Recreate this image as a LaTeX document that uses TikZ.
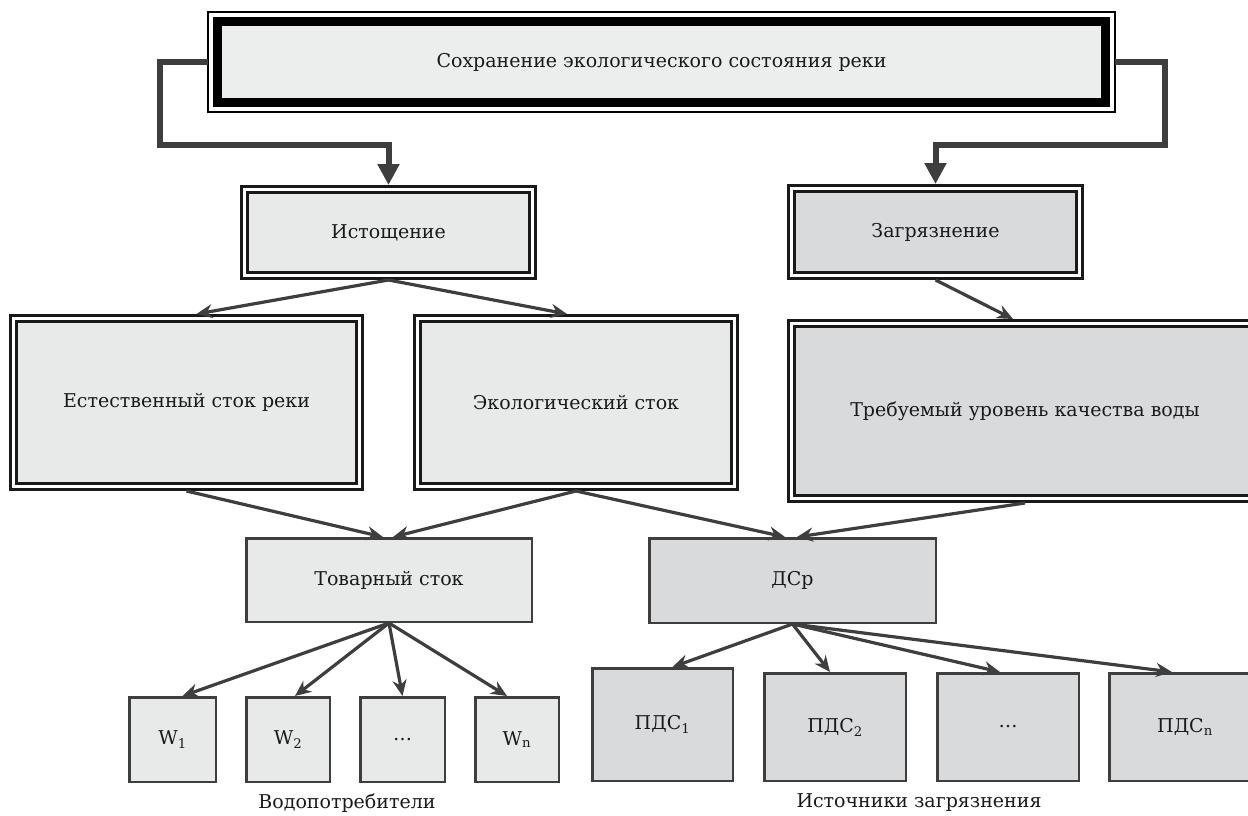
\documentclass[tikz,border=0pt]{standalone}
\usepackage{fontspec}
\setmainfont{DejaVu Serif}
\usetikzlibrary{arrows.meta}

\definecolor{fillT}{HTML}{ECEEEE}
\definecolor{fillA}{HTML}{E8EAEA}
\definecolor{fillB}{HTML}{D8DADC}
\definecolor{lineC}{HTML}{3E3E3E}

\begin{document}
\begin{tikzpicture}[x=1pt,y=-1pt,
  every node/.style={font=\fontsize{19}{23}\selectfont, text=black!90},
  dblbox/.style={draw=black!90, line width=3pt, double=white, double distance=3pt, outer sep=4.5pt},
  onebox/.style={draw=lineC, line width=2.5pt},
  arr/.style={draw=lineC, line width=3.2pt, -{Stealth[length=16pt,width=14pt]}},
  bigarr/.style={draw=lineC, line width=6pt, -{Triangle[length=21pt,width=21pt]}}]

\useasboundingbox (0,0) rectangle (1248,816);

% top goal
\node[draw=black, line width=9pt, fill=fillT, outer sep=0pt, minimum width=888pt, minimum height=81pt] (top) at (661.5,62) {Сохранение экологического состояния реки};
\draw[line width=1.5pt] ([shift={(-9.5,-9.5)}]top.north west) rectangle ([shift={(9.5,9.5)}]top.south east);

% second level
\node[dblbox, fill=fillA, minimum width=288pt, minimum height=86pt] (istosh) at (388.5,232.5) {Истощение};
\node[dblbox, fill=fillB, minimum width=288pt, minimum height=87pt] (zagr) at (935.5,232) {Загрязнение};

\draw[bigarr] ([xshift=-9.5pt]top.west) -- ++(-48,0) -- ++(0,83) -| (istosh.north);
\draw[bigarr] ([xshift=9.5pt]top.east) -- ++(50,0) -- ++(0,83) -| (zagr.north);

% third level
\node[dblbox, fill=fillA, minimum width=346pt, minimum height=168pt] (estest) at (186.5,402.5) {Естественный сток реки};
\node[dblbox, fill=fillA, minimum width=317pt, minimum height=168pt] (ekol) at (576,402.5) {Экологический сток};
\node[dblbox, fill=fillB, minimum width=467pt, minimum height=175pt] (treb) at (1025,411) {Требуемый уровень качества воды};

\draw[arr] (istosh.south) -- ([xshift=10pt]estest.north);
\draw[arr] (istosh.south) -- ([xshift=-9pt]ekol.north);
\draw[arr] (zagr.south) -- ([xshift=-12pt]treb.north);

% fourth level
\node[onebox, fill=fillA, minimum width=285.5pt, minimum height=83.5pt] (tovar) at (389,580) {Товарный сток};
\node[onebox, fill=fillB, minimum width=286.5pt, minimum height=84.5pt] (dsr) at (792.5,580.5) {ДСр};

\draw[arr] (estest.south) -- ([xshift=-6pt]tovar.north);
\draw[arr] (ekol.south) -- ([xshift=4pt]tovar.north);
\draw[arr] (ekol.south) -- ([xshift=-7.5pt]dsr.north);
\draw[arr] (treb.south) -- ([xshift=4.5pt]dsr.north);

% consumers
\foreach \n/\x/\w/\dx/\lab in {w1/172.5/86.5/10/W\textsubscript{1}, w2/288/83.5/7/W\textsubscript{2}, w3/402.5/84.5/0/{\dots}, wn/517/83.5/-10/W\textsubscript{n}} {
  \node[onebox, fill=fillA, minimum width=\w pt, minimum height=84.5pt] (\n) at (\x,739.5) {\lab};
  \draw[arr] (tovar.south) -- ([xshift=\dx pt]\n.north);
}

% pollution sources
\foreach \n/\x/\y/\w/\h/\dx/\lab in {p1/662.5/724.5/140.5/112.5/10/ПДС\textsubscript{1}, p2/835/727/141.5/107.5/-5/ПДС\textsubscript{2}, p3/1008/727/141.5/107.5/-8/{\dots}, pn/1185/727/151.5/107.5/-13/ПДС\textsubscript{n}} {
  \node[onebox, fill=fillB, minimum width=\w pt, minimum height=\h pt] (\n) at (\x,\y) {\lab};
  \draw[arr] (dsr.south) -- ([xshift=\dx pt]\n.north);
}

\node (users) at (347,803) {Водопотребители};
\node (sources) at (919,803) {Источники загрязнения};

\end{tikzpicture}
\end{document}
